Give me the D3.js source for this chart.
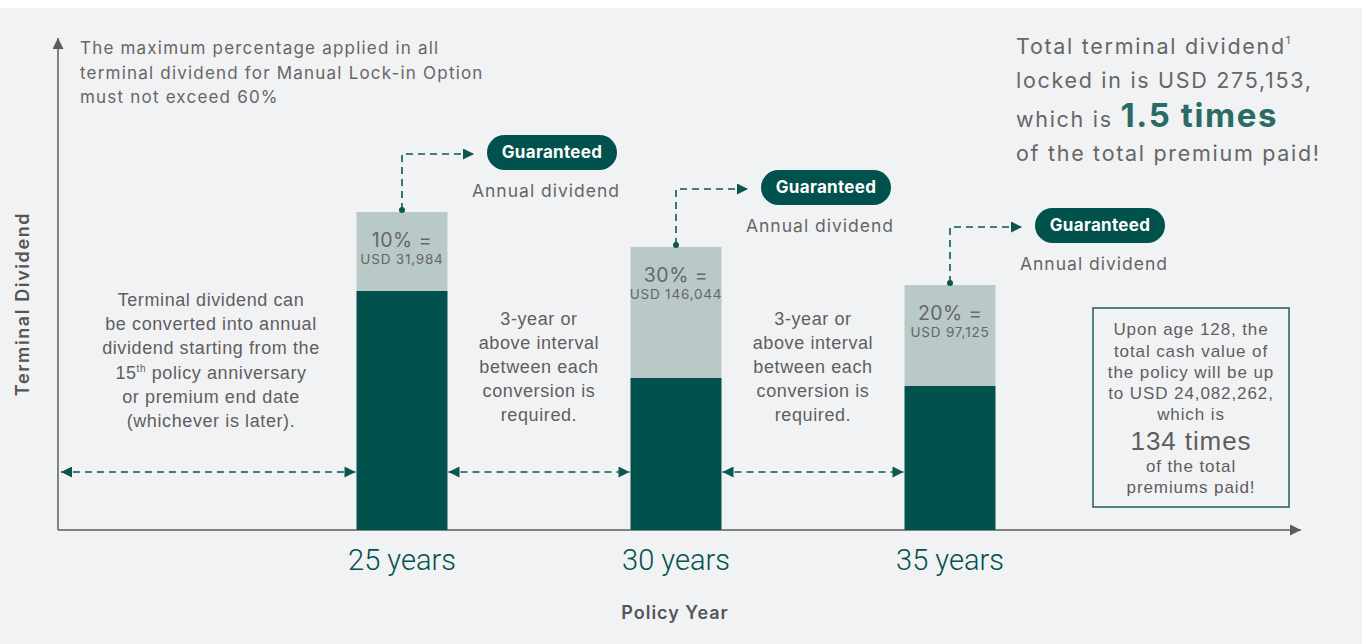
<!DOCTYPE html>
<html>
<head>
<meta charset="utf-8">
<title>Terminal Dividend Lock-in</title>
<script src="https://d3js.org/d3.v7.min.js"></script>
<style>
body { margin: 0; background: #fff; }
svg { display: block; }
.geo { font-family: Inter, "Open Sans", sans-serif; }
.ari { font-family: "Liberation Sans", Arial, sans-serif; }
</style>
</head>
<body>
<div id="chart"></div>
<script>
// data
var years = ["25 years", "30 years", "35 years"];
var baseValue = [47.8, 30.4, 28.8];      // dark part of each bar
var lockedValue = [15.8, 26.2, 20.2];    // light part (locked in)
var lockedPct = ["10% =", "30% =", "20% ="];
var lockedUsd = ["USD 31,984", "USD 146,044", "USD 97,125"];

var width = 1362, height = 644;
var dark = "#01514c", light = "#b9c9c8", dash = "#0b5750", axisCol = "#5c5c5c", txt = "#666";

var svg = d3.select("#chart").append("svg").attr("width", width).attr("height", height);
svg.append("rect").attr("x", 0).attr("y", 8).attr("width", width).attr("height", height - 8).attr("fill", "#f1f2f4");

var defs = svg.append("defs");
function marker(id, col, w, h) {
  defs.append("marker").attr("id", id).attr("viewBox", "0 0 10 10").attr("refX", 10).attr("refY", 5)
    .attr("markerWidth", w).attr("markerHeight", h).attr("markerUnits", "userSpaceOnUse").attr("orient", "auto-start-reverse")
    .append("path").attr("d", "M0,0L10,5L0,10Z").attr("fill", col);
}
marker("ah", dash, 13, 11);
marker("ax", axisCol, 13, 11);

var x = d3.scaleBand().domain(years).range([265, 1087]).paddingInner(0.668).paddingOuter(0.334);
var y = d3.scaleLinear().domain([0, 100]).range([530, 30]);

// axes
svg.append("line").attr("x1", 58).attr("y1", y(0)).attr("x2", 58).attr("y2", 38)
  .attr("stroke", axisCol).attr("stroke-width", 1.5).attr("marker-end", "url(#ax)");
svg.append("line").attr("x1", 58).attr("y1", y(0)).attr("x2", 1301).attr("y2", y(0))
  .attr("stroke", axisCol).attr("stroke-width", 1.5).attr("marker-end", "url(#ax)");

var xAxis = svg.append("g").attr("transform", "translate(0," + y(0) + ")")
  .call(d3.axisBottom(x).tickSize(0).tickPadding(19));
xAxis.select(".domain").remove();
xAxis.selectAll("text").style("font-family", "Roboto, sans-serif").style("font-weight", 300)
  .attr("font-size", 29).attr("fill", dark);

svg.append("text").attr("class", "geo").attr("x", 675).attr("y", 619).attr("text-anchor", "middle")
  .attr("font-size", 18).attr("font-weight", 600).attr("letter-spacing", 1).attr("fill", "#555").text("Policy Year");
svg.append("text").attr("class", "geo").attr("transform", "translate(29,304) rotate(-90)")
  .attr("text-anchor", "middle").attr("font-size", 18).attr("font-weight", 600).attr("letter-spacing", 1.6)
  .attr("fill", "#555").text("Terminal Dividend");

// bars
var bars = svg.selectAll(".bar").data(years).enter().append("g");
bars.append("rect").attr("x", d => x(d)).attr("width", x.bandwidth())
  .attr("y", (d, i) => y(baseValue[i] + lockedValue[i]))
  .attr("height", (d, i) => y(0) - y(lockedValue[i]))
  .attr("fill", light);
bars.append("rect").attr("x", d => x(d)).attr("width", x.bandwidth())
  .attr("y", (d, i) => y(baseValue[i]))
  .attr("height", (d, i) => y(0) - y(baseValue[i]))
  .attr("fill", dark);
bars.append("text").attr("class", "geo").attr("x", d => x(d) + x.bandwidth() / 2)
  .attr("y", (d, i) => y(baseValue[i] + lockedValue[i]) + 35)
  .attr("text-anchor", "middle").attr("font-size", 19.5).attr("letter-spacing", 0.5).attr("fill", txt)
  .text((d, i) => lockedPct[i]);
bars.append("text").attr("class", "geo").attr("x", d => x(d) + x.bandwidth() / 2)
  .attr("y", (d, i) => y(baseValue[i] + lockedValue[i]) + 52)
  .attr("text-anchor", "middle").attr("font-size", 13.5).attr("letter-spacing", 0.8).attr("fill", txt)
  .text((d, i) => lockedUsd[i]);

// guaranteed connectors and pills
bars.each(function (d, i) {
  var g = d3.select(this);
  var cx = x(d) + x.bandwidth() / 2;
  var top = y(baseValue[i] + lockedValue[i]);
  var py = top - 77;
  g.append("circle").attr("cx", cx).attr("cy", top - 2).attr("r", 3).attr("fill", dash);
  g.append("path").attr("d", "M" + cx + "," + (top - 2) + "V" + (py + 19) + "H" + (cx + 72))
    .attr("fill", "none").attr("stroke", dash).attr("stroke-width", 1.6).attr("stroke-dasharray", "7,5")
    .attr("marker-end", "url(#ah)");
  g.append("rect").attr("x", cx + 85).attr("y", py).attr("width", 130).attr("height", 35).attr("rx", 17.5)
    .attr("fill", dark);
  g.append("text").attr("class", "geo").attr("x", cx + 150).attr("y", py + 23).attr("text-anchor", "middle")
    .attr("font-size", 17).attr("font-weight", 700).attr("letter-spacing", 0.3).attr("fill", "#fff").text("Guaranteed");
  g.append("text").attr("class", "geo").attr("x", cx + 144).attr("y", py + 62).attr("text-anchor", "middle")
    .attr("font-size", 17.5).attr("letter-spacing", 1).attr("fill", txt).text("Annual dividend");
});

// horizontal interval arrows
var gaps = [[60, x(years[0])]];
for (var i = 1; i < years.length; i++) gaps.push([x(years[i - 1]) + x.bandwidth(), x(years[i])]);
svg.selectAll(".gap").data(gaps).enter().append("line")
  .attr("x1", d => d[0] + 1).attr("x2", d => d[1] - 1).attr("y1", 472).attr("y2", 472)
  .attr("stroke", dash).attr("stroke-width", 1.6).attr("stroke-dasharray", "7,5")
  .attr("marker-start", "url(#ah)").attr("marker-end", "url(#ah)");

// text blocks
function block(lines, cx, y0, lh, size) {
  var t = svg.append("text").attr("class", "ari").attr("text-anchor", "middle").attr("font-size", size)
    .attr("letter-spacing", 0.6).attr("fill", "#5e5e5e");
  lines.forEach(function (l, k) {
    var ts = t.append("tspan").attr("x", cx).attr("y", y0 + k * lh);
    if (typeof l === "string") ts.text(l);
    else l(ts);
  });
  return t;
}
block(["Terminal dividend can", "be converted into annual", "dividend starting from the",
  function (ts) {
    ts.text("15");
    ts.append("tspan").attr("font-size", 10).attr("dy", -7).text("th");
    ts.append("tspan").attr("dy", 7).text(" policy anniversary");
  },
  "or premium end date", "(whichever is later)."], 211, 306, 24.2, 18);
var mid = ["3-year or", "above interval", "between each", "conversion is", "required."];
block(mid, (x(years[0]) + x.bandwidth() + x(years[1])) / 2, 325, 24, 18);
block(mid, (x(years[1]) + x.bandwidth() + x(years[2])) / 2, 325, 24, 18);

// top-left note
var note = ["The maximum percentage applied in all", "terminal dividend for Manual Lock-in Option", "must not exceed 60%"];
svg.append("text").attr("class", "geo").attr("font-size", 17).attr("letter-spacing", 1.2).attr("fill", txt)
  .selectAll("tspan").data(note).enter().append("tspan")
  .attr("x", 80).attr("y", (d, k) => 54 + k * 24.5).text(d => d);

// top-right summary
var tr = svg.append("g").attr("class", "geo").attr("fill", txt).attr("letter-spacing", 1.7);
var l1 = tr.append("text").attr("x", 1016).attr("y", 54).attr("font-size", 21.5).text("Total terminal dividend");
l1.append("tspan").attr("font-size", 11).attr("dy", -10).text("1");
tr.append("text").attr("x", 1016).attr("y", 88).attr("font-size", 21.5).text("locked in is USD 275,153,");
var l3 = tr.append("text").attr("x", 1016).attr("y", 127).attr("font-size", 21.5).text("which is ");
l3.append("tspan").attr("font-size", 33).attr("font-weight", 700).attr("letter-spacing", 1.6)
  .attr("fill", "#2b6b66").text("1.5 times");
tr.append("text").attr("x", 1016).attr("y", 161).attr("font-size", 21.5).text("of the total premium paid!");

// right box
svg.append("rect").attr("x", 1093).attr("y", 308).attr("width", 196).attr("height", 199)
  .attr("fill", "none").attr("stroke", "#1f5d58").attr("stroke-width", 1.5);
var bt = svg.append("text").attr("class", "ari").attr("text-anchor", "middle").attr("fill", "#5e5e5e")
  .attr("font-size", 17).attr("letter-spacing", 0.9);
var boxLines = [["Upon age 128, the", 335, 17], ["total cash value of", 357, 17], ["the policy will be up", 378, 17],
  ["to USD 24,082,262,", 399, 17], ["which is", 420, 17], ["134 times", 450, 26], ["of the total", 472, 17], ["premiums paid!", 493, 17]];
boxLines.forEach(function (b) {
  bt.append("tspan").attr("x", 1191).attr("y", b[1]).attr("font-size", b[2]).text(b[0]);
});
</script>
</body>
</html>
